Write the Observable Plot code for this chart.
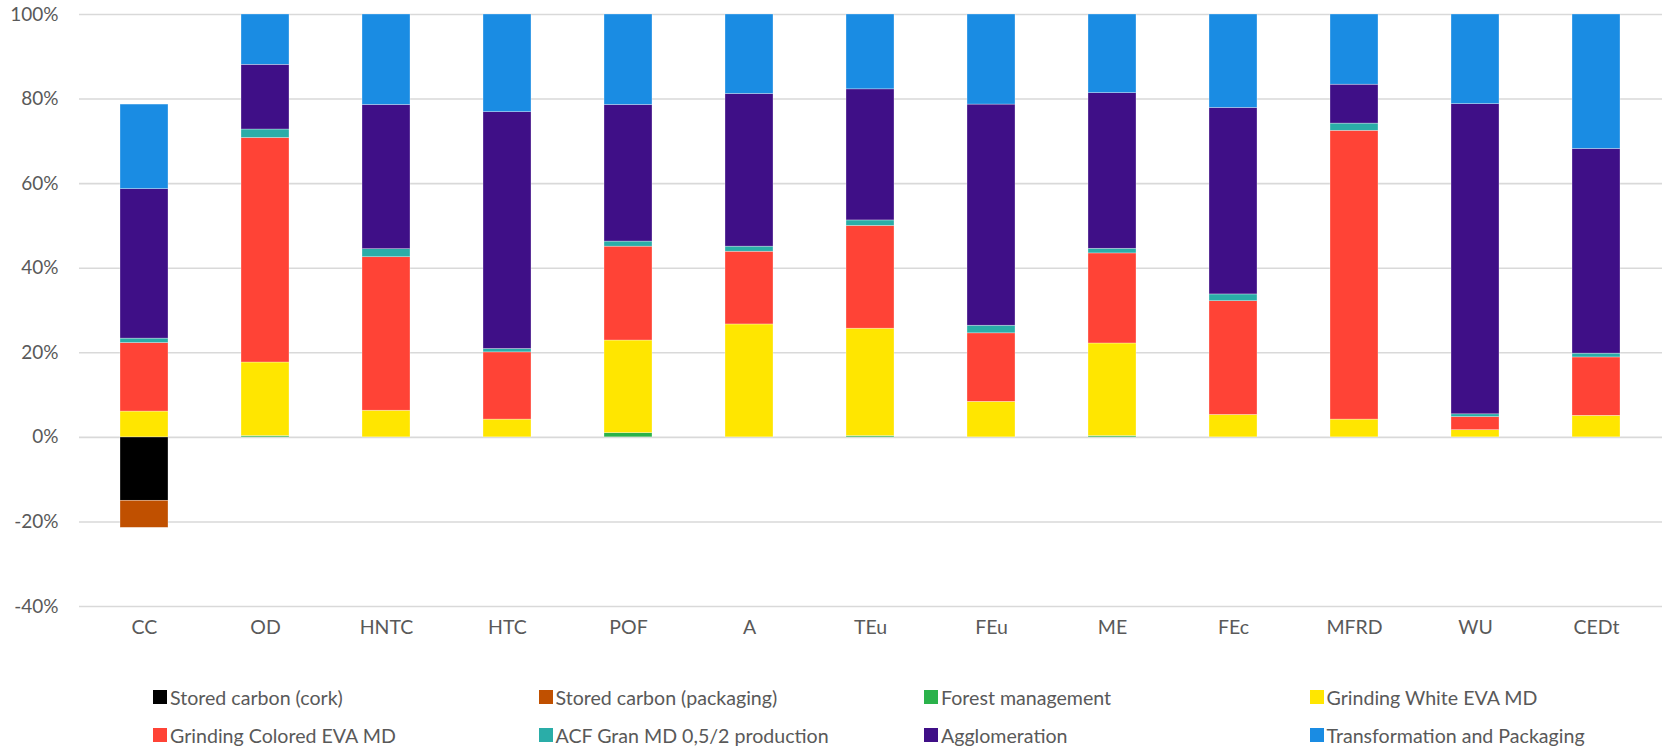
<!DOCTYPE html>
<html>
<head>
<meta charset="utf-8">
<script src="https://cdn.jsdelivr.net/npm/d3@7"></script>
<script src="https://cdn.jsdelivr.net/npm/@observablehq/plot@0.6"></script>
<style>
  html, body { margin: 0; padding: 0; background: #fff; }
  #chart { width: 1665px; }
  #legend {
    display: grid;
    grid-template-columns: repeat(4, 385.5px);
    padding-left: 153px;
    margin-top: 25px;
    row-gap: 14px;
    font-family: Lato, "Open Sans", sans-serif;
    font-size: 19.6px;
    color: #595959;
  }
  .item { display: flex; align-items: center; height: 24px; white-space: nowrap; }
  .sw { width: 14px; height: 14px; margin-right: 3px; flex: none; }
</style>
</head>
<body>
<div id="chart"></div>
<div id="legend"></div>
<script>
const categories = ["CC", "OD", "HNTC", "HTC", "POF", "A", "TEu", "FEu", "ME", "FEc", "MFRD", "WU", "CEDt"];
const seriesNames = [
  "Stored carbon (cork)", "Stored carbon (packaging)", "Forest management", "Grinding White EVA MD",
  "Grinding Colored EVA MD", "ACF Gran MD 0,5/2 production", "Agglomeration", "Transformation and Packaging"
];
const seriesColors = ["#000000", "#C05000", "#2AB24B", "#FFE600", "#FF4336", "#2AADA8", "#3F0F87", "#1A8CE3"];

const storedCork   = [-15.0, 0, 0, 0, 0, 0, 0, 0, 0, 0, 0, 0, 0];
const storedPack   = [-6.4, 0, 0, 0, 0, 0, 0, 0, 0, 0, 0, 0, 0];
const forestMgmt   = [0, 0.3, 0, 0, 1.0, 0, 0.3, 0, 0.3, 0, 0, 0, 0];
const grindWhite   = [6.1, 17.4, 6.3, 4.2, 21.9, 26.7, 25.4, 8.4, 21.9, 5.3, 4.2, 1.7, 5.1];
const grindColored = [16.2, 53.1, 36.3, 15.9, 22.2, 17.2, 24.3, 16.2, 21.3, 26.9, 68.3, 3.1, 13.8];
const acfGran      = [1.05, 2.0, 1.9, 0.8, 1.2, 1.2, 1.3, 1.8, 1.1, 1.6, 1.7, 0.65, 0.9];
const agglomeration= [35.35, 15.3, 34.1, 56.0, 32.3, 36.1, 31.0, 52.3, 36.8, 44.1, 9.2, 73.35, 48.4];
const transfPack   = [20.0, 11.9, 21.4, 23.1, 21.4, 18.8, 17.7, 21.3, 18.6, 22.1, 16.6, 21.2, 31.8];
const yTicks = [-40, -20, 0, 20, 40, 60, 80, 100];

const seriesValues = [storedCork, storedPack, forestMgmt, grindWhite, grindColored, acfGran, agglomeration, transfPack];
const rows = [];
seriesNames.forEach((s, i) => {
  categories.forEach((c, j) => {
    const v = seriesValues[i][j];
    if (v !== 0) rows.push({category: c, series: s, value: v});
  });
});

const font = "Lato, 'Open Sans', sans-serif";
const chart = Plot.plot({
  width: 1665,
  height: 660,
  marginTop: 14,
  marginBottom: 54,
  marginLeft: 79,
  marginRight: 3,
  style: {fontFamily: font, fontSize: "19px", color: "#595959", background: "#fff"},
  x: {type: "band", domain: categories, paddingInner: 0.6, paddingOuter: 0.3, label: null},
  y: {domain: [-40, 100], label: null},
  color: {domain: seriesNames, range: seriesColors},
  marks: [
    Plot.gridY(yTicks, {stroke: "#d9d9d9", strokeOpacity: 1, strokeWidth: 1.6}),
    Plot.barY(rows, Plot.stackY({x: "category", y: "value", fill: "series", order: seriesNames,
      stroke: "#ffffff", strokeWidth: 0.6, strokeOpacity: 0.5})),
    Plot.axisY(yTicks, {tickSize: 0, tickPadding: 21, tickFormat: d => d + "%", label: null, fill: "#595959"}),
    Plot.axisX({tickSize: 0, tickPadding: 14, label: null, fill: "#595959", fontSize: "19.5px"})
  ]
});
document.getElementById("chart").appendChild(chart);

const legend = document.getElementById("legend");
seriesNames.forEach((s, i) => {
  const item = document.createElement("div");
  item.className = "item";
  const sw = document.createElement("span");
  sw.className = "sw";
  sw.style.background = seriesColors[i];
  const t = document.createElement("span");
  t.textContent = s;
  item.appendChild(sw);
  item.appendChild(t);
  legend.appendChild(item);
});
</script>
</body>
</html>
